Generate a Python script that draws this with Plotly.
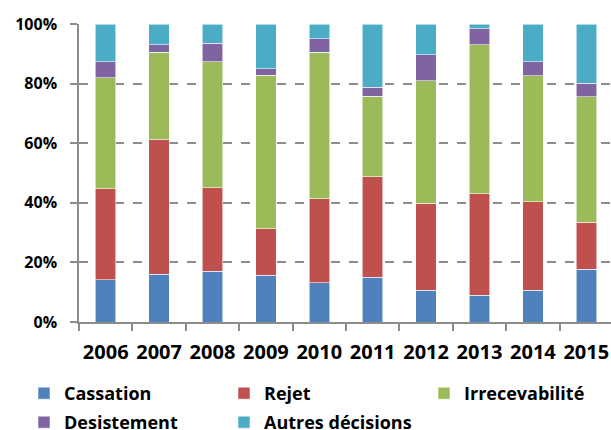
import plotly.graph_objects as go

# Share of decisions by outcome, per year (percent of total)
years = ["2006", "2007", "2008", "2009", "2010", "2011", "2012", "2013", "2014", "2015"]
cassation = [14.1, 16.0, 17.1, 15.7, 13.1, 15.0, 10.7, 8.9, 10.7, 17.7]
rejet = [30.6, 45.2, 28.0, 15.6, 28.3, 33.8, 29.2, 34.1, 29.7, 15.7]
irrecevabilite = [37.3, 29.4, 42.3, 51.5, 49.1, 27.0, 41.0, 50.0, 42.2, 42.2]
desistement = [5.4, 2.5, 6.1, 2.2, 4.6, 2.9, 8.8, 5.4, 4.8, 4.6]
autres = [12.6, 6.9, 6.5, 15.0, 4.9, 21.3, 10.3, 1.6, 12.6, 19.8]

y_ticks = [0, 20, 40, 60, 80, 100]
y_labels = ["0%", "20%", "40%", "60%", "80%", "100%"]

# (name, values, colour, legend row)
series = [
    ("Cassation", cassation, "#4F81BD", "legend"),
    ("Rejet", rejet, "#C0504D", "legend"),
    ("Irrecevabilité", irrecevabilite, "#9BBB59", "legend"),
    ("Desistement", desistement, "#8064A2", "legend2"),
    ("Autres décisions", autres, "#4BACC6", "legend2"),
]

FONT = "Open Sans"

fig = go.Figure()
for name, vals, color, leg in series:
    fig.add_trace(go.Bar(
        x=years, y=vals, name=name, legend=leg,
        marker=dict(color=color, line=dict(color="rgba(255,255,255,0.7)", width=0.8)),
    ))

# Plot area: 79..611 px wide, 24..322 px tall
PLOT_L, PLOT_W, PLOT_B, PLOT_H = 79, 532, 322, 298


def legend_row(top_px):
    return dict(
        orientation="h", xref="paper", yref="paper",
        x=(24 - PLOT_L) / PLOT_W, y=(PLOT_B - top_px) / PLOT_H,
        xanchor="left", yanchor="top",
        entrywidth=155, entrywidthmode="pixels",
        traceorder="normal",
        font=dict(family=FONT, size=18, weight="bold", color="black"),
        itemwidth=30, tracegroupgap=0, bgcolor="rgba(0,0,0,0)",
    )


fig.update_layout(
    width=611, height=430,
    barmode="stack", bargap=0.616,
    paper_bgcolor="white", plot_bgcolor="white",
    margin=dict(l=PLOT_L, r=0, t=24, b=430 - PLOT_B, autoexpand=False),
    font=dict(family=FONT, color="black"),
    legend=legend_row(375),
    legend2=legend_row(404),
    showlegend=True,
)

fig.update_xaxes(
    type="category", range=[-0.5, 9.463],
    showline=True, linecolor="#8c8c8c", linewidth=1.5,
    ticks="outside", tickson="boundaries", ticklen=7, tickcolor="#8c8c8c", tickwidth=1.5,
    tickangle=0, ticklabelstandoff=11,
    tickfont=dict(family=FONT, size=20, weight="bold", color="black"),
    showgrid=False,
)
fig.update_yaxes(
    range=[0, 100], tickmode="array", tickvals=y_ticks, ticktext=y_labels,
    showline=True, linecolor="#8c8c8c", linewidth=1.5,
    ticks="outside", ticklen=7, tickcolor="#8c8c8c", tickwidth=1.5,
    ticklabelstandoff=10,
    tickfont=dict(family=FONT, size=16, weight="bold", color="black"),
    showgrid=True, gridcolor="#8c8c8c", gridwidth=1.5, griddash="dash",
    zeroline=False,
)

fig.write_html("out.html")
